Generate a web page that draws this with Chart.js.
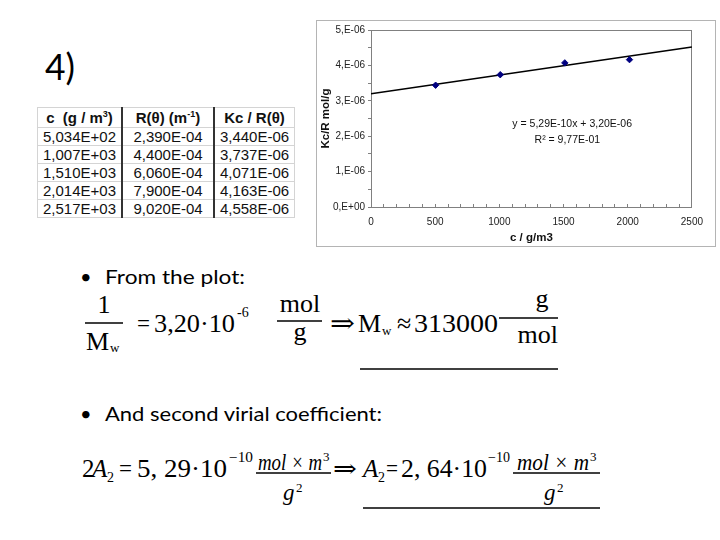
<!DOCTYPE html>
<html>
<head>
<meta charset="utf-8">
<script src="https://cdn.jsdelivr.net/npm/chart.js@4.4.1/dist/chart.umd.min.js"></script>
<style>
  html, body { margin:0; padding:0; background:#fff; }
  body { width:720px; height:540px; position:relative; overflow:hidden; }
  #frame { position:absolute; left:316px; top:20px; width:398px; height:225px; border:1px solid #b4b4b4; }
  #frame canvas { position:absolute; left:0; top:0; }
  #tbl { position:absolute; left:37px; top:107px; border-collapse:collapse; font-family:'Liberation Sans', Arial, sans-serif; font-size:15px; color:#111; background:#fff; }
  #tbl td, #tbl th { padding:0; text-align:center; border-top:1px solid #d4d4d4; border-bottom:1px solid #d4d4d4; line-height:16px; }
  #tbl th { font-weight:bold; height:19px; }
  #tbl td { height:17px; }
  #tbl td.c1, #tbl th.c1 { border-left:1px solid #d4d4d4; border-right:2px solid #333; width:83px; }
  #tbl td.c2, #tbl th.c2 { border-right:2px solid #333; width:90px; }
  #tbl td.c3, #tbl th.c3 { border-right:1px solid #d4d4d4; width:79px; }
  #tbl sup { font-size:9px; line-height:0; vertical-align:6px; }
  svg#txt { position:absolute; left:0; top:0; }
  .ser { font-family:'Liberation Serif','DejaVu Serif',serif; fill:#000; }
  .san { font-family:'Lato','Open Sans',sans-serif; fill:#000; }
</style>
</head>
<body>
<svg id="txt" width="720" height="540">
  <text class="san" x="45" y="80" font-size="36" textLength="30" lengthAdjust="spacingAndGlyphs">4)</text>
  <text class="san" x="80" y="284" font-size="20">•</text>
  <text class="san" x="105" y="284" font-size="20" textLength="140" lengthAdjust="spacingAndGlyphs">From the plot:</text>
  <text class="san" x="80" y="421" font-size="20">•</text>
  <text class="san" x="105" y="421" font-size="20" textLength="277" lengthAdjust="spacingAndGlyphs">And second virial coefficient:</text>

  <!-- equation 1 -->
  <g class="ser" font-size="26">
    <text x="104" y="313" text-anchor="middle">1</text>
    <text x="86" y="350">M</text>
    <text x="110" y="352" font-size="13">w</text>
    <text x="137" y="332" textLength="13" lengthAdjust="spacingAndGlyphs">=</text>
    <text x="154" y="332" textLength="81" lengthAdjust="spacingAndGlyphs">3,20·10</text>
    <text x="237" y="317" font-size="14">-6</text>
    <text x="300" y="312" text-anchor="middle">mol</text>
    <text x="300" y="340" text-anchor="middle">g</text>
    <text x="330" y="332" textLength="25" lengthAdjust="spacingAndGlyphs">⇒</text>
    <text x="358" y="332">M</text>
    <text x="382" y="335" font-size="13">w</text>
    <text x="397" y="332">≈</text>
    <text x="414" y="332" textLength="84" lengthAdjust="spacingAndGlyphs">313000</text>
    <text x="542" y="307" text-anchor="middle">g</text>
    <text x="558" y="343" text-anchor="end">mol</text>
  </g>
  <g stroke="#000" stroke-width="1.3">
    <line x1="85" x2="123" y1="323" y2="323"/>
    <line x1="277" x2="322" y1="321" y2="321"/>
    <line x1="499" x2="558" y1="318" y2="318"/>
    <line x1="360" x2="558" y1="369" y2="369"/>
  </g>

  <!-- equation 2 -->
  <g class="ser" font-size="25">
    <text x="82" y="477">2</text>
    <text x="92" y="477" font-style="italic">A</text>
    <text x="107" y="482" font-size="14">2</text>
    <text x="119" y="477" textLength="13" lengthAdjust="spacingAndGlyphs">=</text>
    <text x="137" y="477" textLength="90" lengthAdjust="spacingAndGlyphs">5, 29·10</text>
    <text x="229" y="462" font-size="14" textLength="24" lengthAdjust="spacingAndGlyphs">−10</text>
    <text x="258" y="470" font-size="23" font-style="italic" textLength="64" lengthAdjust="spacingAndGlyphs">mol × m</text>
    <text x="323" y="461" font-size="13">3</text>
    <text x="283" y="500" font-size="23" font-style="italic">g</text>
    <text x="296" y="492" font-size="13">2</text>
    <text x="333" y="477" textLength="24" lengthAdjust="spacingAndGlyphs">⇒</text>
    <text x="363" y="477" font-style="italic">A</text>
    <text x="378" y="482" font-size="14">2</text>
    <text x="386" y="477" textLength="12" lengthAdjust="spacingAndGlyphs">=</text>
    <text x="401" y="477" textLength="86" lengthAdjust="spacingAndGlyphs">2, 64·10</text>
    <text x="488" y="462" font-size="14" textLength="22" lengthAdjust="spacingAndGlyphs">−10</text>
    <text x="517" y="470" font-size="23" font-style="italic" textLength="72" lengthAdjust="spacingAndGlyphs">mol × m</text>
    <text x="590" y="461" font-size="13">3</text>
    <text x="544" y="500" font-size="23" font-style="italic">g</text>
    <text x="557" y="492" font-size="13">2</text>
  </g>
  <g stroke="#000" stroke-width="1.3">
    <line x1="256" x2="331" y1="473" y2="473"/>
    <line x1="513" x2="600" y1="473" y2="473"/>
    <line x1="363" x2="600" y1="508" y2="508"/>
  </g>
</svg>

<table id="tbl"><thead></thead><tbody></tbody></table>

<div id="frame"><canvas id="chart" width="398" height="225"></canvas></div>

<script>
// ---- table data ----
const tableHeaders = ['c&nbsp; (g / m<sup>3</sup>)', 'R(&theta;) (m<sup>-1</sup>)', 'Kc / R(&theta;)'];
const tableC   = ['5,034E+02', '1,007E+03', '1,510E+03', '2,014E+03', '2,517E+03'];
const tableR   = ['2,390E-04', '4,400E-04', '6,060E-04', '7,900E-04', '9,020E-04'];
const tableKcR = ['3,440E-06', '3,737E-06', '4,071E-06', '4,163E-06', '4,558E-06'];

// ---- plotted data (points visible in the chart) ----
const plotC   = [503.4, 1007, 1510, 2014];
const plotKcR = [3.440e-6, 3.737e-6, 4.071e-6, 4.163e-6];
// ---- trend line end points ----
const trendC   = [0, 2500];
const trendKcR = [3.20e-6, 4.52e-6];
// ---- tick labels ----
const xTickLabels = ['0', '500', '1000', '1500', '2000', '2500'];
const yTickLabels = ['0,E+00', '1,E-06', '2,E-06', '3,E-06', '4,E-06', '5,E-06'];
const fitLines = ['y = 5,29E-10x + 3,20E-06', 'R\u00B2 = 9,77E-01'];

// build table
(function(){
  const thead = document.querySelector('#tbl thead');
  const tr = document.createElement('tr');
  tableHeaders.forEach((h,i)=>{ const th=document.createElement('th'); th.className='c'+(i+1); th.innerHTML=h; tr.appendChild(th); });
  thead.appendChild(tr);
  const tbody = document.querySelector('#tbl tbody');
  tableC.forEach((c,i)=>{
    const r=document.createElement('tr');
    [c, tableR[i], tableKcR[i]].forEach((v,j)=>{ const td=document.createElement('td'); td.className='c'+(j+1); td.textContent=v; r.appendChild(td); });
    tbody.appendChild(r);
  });
})();

const fitLabel = {
  id: 'fitLabel',
  afterDatasetsDraw(chart) {
    const {ctx, chartArea:a} = chart;
    ctx.save();
    ctx.font = '10.5px "Liberation Sans", Arial, sans-serif';
    ctx.fillStyle = '#111';
    ctx.textAlign = 'center';
    ctx.textBaseline = 'middle';
    ctx.fillText(fitLines[0], a.left + a.width*0.627, a.top + a.height*0.534);
    ctx.fillText(fitLines[1], a.left + a.width*0.612, a.top + a.height*0.624);
    ctx.restore();
  }
};

const axisColor = '#808080';
const tickFont = {family:'"Liberation Sans", Arial, sans-serif', size:10};
const titleFont = {family:'"Liberation Sans", Arial, sans-serif', size:11.5, weight:'bold'};

new Chart(document.getElementById('chart'), {
  type: 'scatter',
  data: {
    datasets: [
      {
        label: 'Kc/R',
        data: plotC.map((c,i)=>({x:c, y:plotKcR[i]})),
        pointStyle: 'rectRot',
        pointRadius: 3.2,
        backgroundColor: '#000080',
        borderColor: '#000080',
        borderWidth: 1,
        order: 0
      },
      {
        label: 'trend',
        data: trendC.map((c,i)=>({x:c, y:trendKcR[i]})),
        showLine: true,
        borderColor: '#000',
        borderWidth: 1.6,
        pointRadius: 0,
        order: 1
      }
    ]
  },
  options: {
    responsive: false,
    animation: false,
    layout: {padding: {left:0, right:14, top:8, bottom:0}},
    plugins: {legend:{display:false}, tooltip:{enabled:false}},
    scales: {
      x: {
        type:'linear', position:'bottom', min:0, max:2500,
        ticks: {stepSize:100, autoSkip:false, maxRotation:0, padding:12, color:'#222', font:tickFont,
          callback:(v,i)=> (i%5===0 ? xTickLabels[i/5] : '')},
        grid: {drawOnChartArea:false, drawTicks:true, tickLength:-3, color:axisColor},
        border: {display:true, color:axisColor, width:1},
        title: {display:true, text:'c / g/m3', color:'#111', font:titleFont, padding:{top:0, bottom:1}},
        afterFit(s){ s.height = 39; }
      },
      x2: {
        type:'linear', position:'top', min:0, max:2500, display:true,
        ticks:{display:false}, grid:{display:false, drawTicks:false},
        border:{display:true, color:axisColor, width:1},
        afterFit(s){ s.height = 0; }
      },
      y: {
        type:'linear', position:'left', min:0, max:5e-6,
        ticks: {stepSize:0.5e-6, autoSkip:false, padding:3, color:'#222', font:tickFont,
          callback:(v,i)=> (i%2===0 ? yTickLabels[i/2] : '')},
        grid: {drawOnChartArea:false, drawTicks:true, tickLength:3, color:axisColor},
        border: {display:true, color:axisColor, width:1},
        title: {display:true, text:'Kc/R mol/g', color:'#111', font:titleFont, padding:{top:2, bottom:0}},
        afterFit(s){ s.width = 54; }
      },
      y2: {
        type:'linear', position:'right', min:0, max:5e-6, display:true,
        ticks:{display:false}, grid:{display:false, drawTicks:false},
        border:{display:true, color:axisColor, width:1},
        afterFit(s){ s.width = 0; }
      }
    }
  },
  plugins: [fitLabel]
});
</script>
</body>
</html>
